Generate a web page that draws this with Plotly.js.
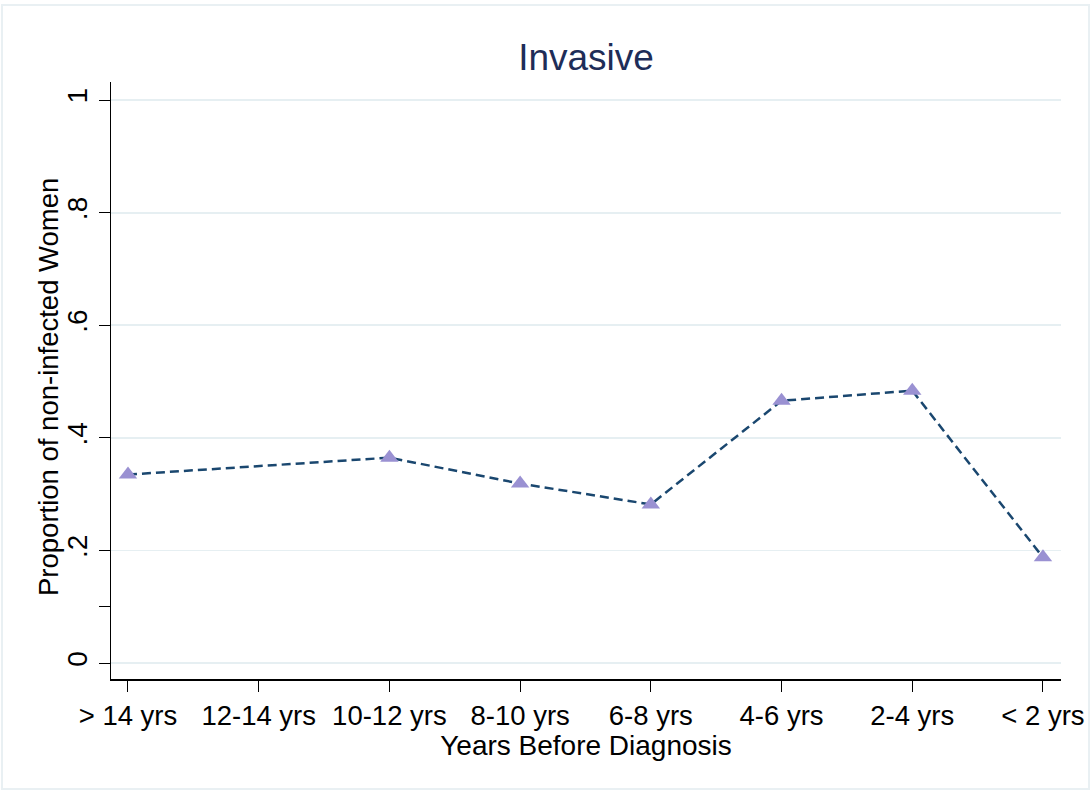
<!DOCTYPE html>
<html>
<head>
<meta charset="utf-8">
<script src="https://cdn.plot.ly/plotly-3.0.1.min.js"></script>
<style>
  html, body { margin: 0; padding: 0; background: #fff; }
  #chart { width: 1090px; height: 792px; position: relative; }
  #frame { position: absolute; left: 1px; top: 4px; width: 1085px; height: 782px;
           border: 2px solid #e9f0f3; pointer-events: none; }
</style>
</head>
<body>
<div id="chart"></div>
<div id="frame"></div>
<script>
const categories = ['> 14 yrs', '12-14 yrs', '10-12 yrs', '8-10 yrs', '6-8 yrs', '4-6 yrs', '2-4 yrs', '< 2 yrs'];
const proportion = [0.335, null, 0.365, 0.319, 0.282, 0.466, 0.484, 0.188];
const yTickVals = [0, 0.2, 0.4, 0.6, 0.8, 1];
const yTickText = ['0', '.2', '.4', '.6', '.8', '1'];
const yMinorTicks = [0.1];
const yTitle = 'Proportion of non-infected Women';

const trace = {
  x: categories,
  y: proportion,
  type: 'scatter',
  mode: 'lines+markers',
  connectgaps: true,
  line: { color: '#1a476f', width: 2.5, dash: '9px,5px' },
  marker: { symbol: 'triangle-up', size: 16, color: '#9a91d2' },
  hoverinfo: 'x+y'
};

const font = 'Arial, "Liberation Sans", Helvetica, sans-serif';

const layout = {
  width: 1090,
  height: 792,
  margin: { l: 111, r: 29, t: 82, b: 113 },
  paper_bgcolor: '#ffffff',
  plot_bgcolor: '#ffffff',
  showlegend: false,
  font: { family: font, color: '#000000', size: 27 },
  title: {
    text: 'Invasive',
    font: { family: font, size: 37, color: '#1e2d58' },
    x: 0.5, xanchor: 'center', xref: 'paper',
    y: 1 - 57 / 792, yanchor: 'middle', yref: 'container'
  },
  xaxis: {
    type: 'category',
    range: [-0.13, 7.138],
    showgrid: false,
    zeroline: false,
    showline: true, linecolor: '#000000', linewidth: 1.5,
    ticks: 'outside', ticklen: 11, tickwidth: 1, tickcolor: '#000000',
    tickfont: { family: font, size: 27.5, color: '#000000' },
    title: { text: 'Years Before Diagnosis', font: { family: font, size: 28, color: '#000000' }, standoff: 6 }
  },
  yaxis: {
    range: [-0.028, 1.032],
    tickmode: 'array',
    tickvals: yTickVals,
    ticktext: yTickText,
    tickangle: -90,
    showgrid: true, gridcolor: '#e6eff2', gridwidth: 1.8,
    zeroline: false,
    showline: true, linecolor: '#000000', linewidth: 1.5,
    ticks: 'outside', ticklen: 11, tickwidth: 1, tickcolor: '#000000',
    tickfont: { family: font, size: 28, color: '#000000' },
    minor: { tickmode: 'array', tickvals: yMinorTicks, ticks: 'outside', ticklen: 11, tickwidth: 1, tickcolor: '#000000', showgrid: false }
  },
  annotations: [{
    text: yTitle,
    xref: 'paper', yref: 'paper',
    x: (48 - 111) / 950, y: (679 - 387) / 597,
    xanchor: 'center', yanchor: 'middle',
    textangle: -90, showarrow: false,
    font: { family: font, size: 27.5, color: '#000000' }
  }]
};

Plotly.newPlot('chart', [trace], layout, { displayModeBar: false, staticPlot: true });
</script>
</body>
</html>
